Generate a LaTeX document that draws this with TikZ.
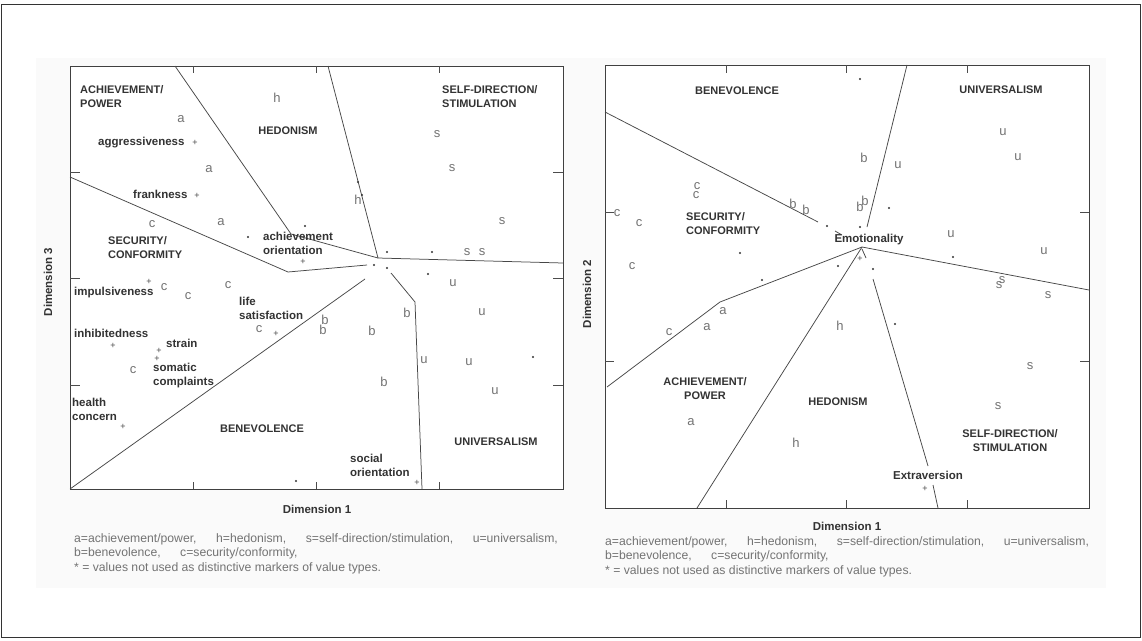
\documentclass[tikz,border=0pt]{standalone}
\usepackage{fontspec}
\setmainfont{Liberation Sans}

\begin{document}
\begin{tikzpicture}[
  x=1pt, y=-1pt,
  page/.style={draw=black!80, line width=0.8pt},
  frame/.style={draw=black!75, line width=0.9pt},
  part/.style={black!72, line width=0.75pt},
  tickmark/.style={black!70, line width=0.75pt},
  region/.style={font=\bfseries\fontsize{11}{14}\selectfont, text=black!80, inner sep=0pt},
  var/.style={font=\bfseries\fontsize{11.5}{14}\selectfont, text=black!80, inner sep=0pt, align=left},
  typ/.style={font=\fontsize{13}{13}\selectfont, text=black!55, inner sep=0pt},
  crossmk/.style={font=\fontsize{9}{9}\selectfont, text=black!70, inner sep=0pt},
  ndot/.style={circle, fill=black!80, inner sep=0pt, minimum size=2.4pt},
  axlabel/.style={font=\bfseries\fontsize{11.5}{13}\selectfont, text=black!80, inner sep=0pt},
  key/.style={font=\fontsize{12.2}{14.5}\selectfont, text=black!55, inner sep=0pt, align=left, anchor=north west}
]
\useasboundingbox (0,0) rectangle (1142,640);
\draw[page] (1.5,4) rectangle (1140.5,637);
\fill[black!2] (36,58) rectangle (1106,588);

% ----------------------------- Left plot -----------------------------
\draw[frame, fill=white] (70,66) rectangle (563,489);
\foreach \x in {193,316,439} {
  \draw[tickmark] (\x,66) -- ++(0,7);
  \draw[tickmark] (\x,489) -- ++(0,-7);
}
\foreach \y in {172,278,385} {
  \draw[tickmark] (70,\y) -- ++(10,0);
  \draw[tickmark] (563,\y) -- ++(-10,0);
}

% partition lines
\coordinate (C1) at (378,258);
\draw[part] (175,66) -- (291,234) -- (C1);
\draw[part] (328,66) -- (C1);
\draw[part] (C1) -- (563,263);
\draw[part] (70,177) -- (288,272) -- (367,265);
\draw[part] (391,273) -- (415,302) -- (422,489);
\draw[part] (70,489) -- (365,279);

% value types
\foreach \x/\y/\t [count=\i] in {
  181/119/a, 209/169/a, 221/222/a, 277/98/h, 358/200/h,
  437/134/s, 452/168/s, 502/221/s, 467/252/s, 482/252/s,
  453/283/u, 482/312/u, 424/360/u, 469/362/u, 495/391/u,
  407/313/b, 372/331/b, 384/382/b, 325/320/b, 323/330/b,
  152/224/c, 164/287/c, 188/296/c, 228/285/c, 259/329/c, 133/370/c}
  \node[typ] (la\i) at (\x,\y) {\t};
\foreach \x/\y [count=\i] in {358/182, 362/195, 305/226, 248/237, 387/252, 432/252,
  374/265, 387/268, 428/274, 533/357, 296/481}
  \node[ndot] (ld\i) at (\x,\y) {};
\foreach \x/\y [count=\i] in {195/143, 197/196, 303/262, 149/282, 113/346, 159/351,
  157/359, 123/427, 276/334, 417/483}
  \node[crossmk] (lp\i) at (\x,\y) {+};

% region names
\node[region, anchor=north west, align=left] (lach) at (80,85) {ACHIEVEMENT/\\POWER};
\node[region] (lhed) at (288,131) {HEDONISM};
\node[region, anchor=north west, align=left] (lsel) at (442,85) {SELF-DIRECTION/\\STIMULATION};
\node[region, anchor=north west, align=left] (lsec) at (108,236) {SECURITY/\\CONFORMITY};
\node[region] (lben) at (262,429) {BENEVOLENCE};
\node[region] (luni) at (496,442) {UNIVERSALISM};

% personality variables
\node[var, anchor=west] (agg) at (98,143) {aggressiveness};
\node[var, anchor=west] (fra) at (133,194) {frankness};
\node[var, anchor=north west] (ach) at (263,232) {achievement\\orientation};
\node[var, anchor=west] (imp) at (74,293) {impulsiveness};
\node[var, anchor=west] (inh) at (74,333) {inhibitedness};
\node[var, anchor=west] (str) at (166,343) {strain};
\node[var, anchor=north west] (som) at (153,363) {somatic\\complaints};
\node[var, anchor=north west] (hea) at (72,398) {health\\concern};
\node[var, anchor=north west] (lif) at (239,297) {life\\satisfaction};
\node[var, anchor=north west] (soc) at (350,454) {social\\orientation};

% axes and key
\node[axlabel, rotate=90] (dim3) at (48,282) {Dimension 3};
\node[axlabel] (ldim1) at (317,509) {Dimension 1};
\node[key] (lkey) at (74,533) {a=achievement/power,\hspace{1.6em}h=hedonism,\hspace{1.6em}s=self-direction/stimulation,\hspace{1.6em}u=universalism,\\
  b=benevolence,\hspace{1.6em}c=security/conformity,\\
  * = values not used as distinctive markers of value types.};

% ----------------------------- Right plot -----------------------------
\draw[frame, fill=white] (605,65) rectangle (1089,508);
\foreach \x in {726,846,967} {
  \draw[tickmark] (\x,65) -- ++(0,8);
  \draw[tickmark] (\x,508) -- ++(0,-8);
}
\foreach \y in {212,361} {
  \draw[tickmark] (605,\y) -- ++(9,0);
  \draw[tickmark] (1089,\y) -- ++(-9,0);
}

% partition lines
\coordinate (C2) at (862,247);
\draw[part] (605,112) -- (818,222);
\draw[part] (835,231) -- (842,235);
\draw[part] (907,65) -- (867,227);
\draw[part] (607,387) -- (720,302) -- (C2);
\draw[part] (697,508) -- (C2);
\draw[part] (C2) -- (1089,290);
\draw[part] (862,249) -- (866,258);
\draw[part] (873,279) -- (928,466);
\draw[part] (933,485) -- (938,508);

% value types
\foreach \x/\y/\t [count=\i] in {
  723/311/a, 707/327/a, 691/422/a, 840/326/h, 796/443/h,
  1002/280/s, 999/285/s, 1048/295/s, 1030/366/s, 998/406/s,
  898/165/u, 1003/132/u, 1018/157/u, 951/234/u, 1044/251/u,
  864/158/b, 793/204/b, 806/210/b, 865/201/b, 860/207/b,
  697/186/c, 696/195/c, 617/213/c, 639/223/c, 632/266/c, 669/332/c}
  \node[typ] (ra\i) at (\x,\y) {\t};
\foreach \x/\y [count=\i] in {860/79, 827/226, 860/227, 889/208, 740/253, 762/280,
  838/266, 873/269, 953/257, 895/324}
  \node[ndot] (rd\i) at (\x,\y) {};
\foreach \x/\y [count=\i] in {860/259, 925/489}
  \node[crossmk] (rp\i) at (\x,\y) {+};

% region names
\node[region] (rben) at (737,91) {BENEVOLENCE};
\node[region] (runi) at (1001,90) {UNIVERSALISM};
\node[region, anchor=north west, align=left] (rsec) at (686,212) {SECURITY/\\CONFORMITY};
\node[region, align=center] (rach) at (705,389) {ACHIEVEMENT/\\POWER};
\node[region] (rhed) at (838,402) {HEDONISM};
\node[region, align=center] (rsel) at (1010,441) {SELF-DIRECTION/\\STIMULATION};

% personality variables
\node[var] (emo) at (869,240) {Emotionality};
\node[var] (ext) at (928,475) {Extraversion};

% axes and key
\node[axlabel, rotate=90] (dim2) at (587,294) {Dimension 2};
\node[axlabel] (rdim1) at (847,526) {Dimension 1};
\node[key] (rkey) at (605,536) {a=achievement/power,\hspace{1.6em}h=hedonism,\hspace{1.6em}s=self-direction/stimulation,\hspace{1.6em}u=universalism,\\
  b=benevolence,\hspace{1.6em}c=security/conformity,\\
  * = values not used as distinctive markers of value types.};

\end{tikzpicture}
\end{document}
